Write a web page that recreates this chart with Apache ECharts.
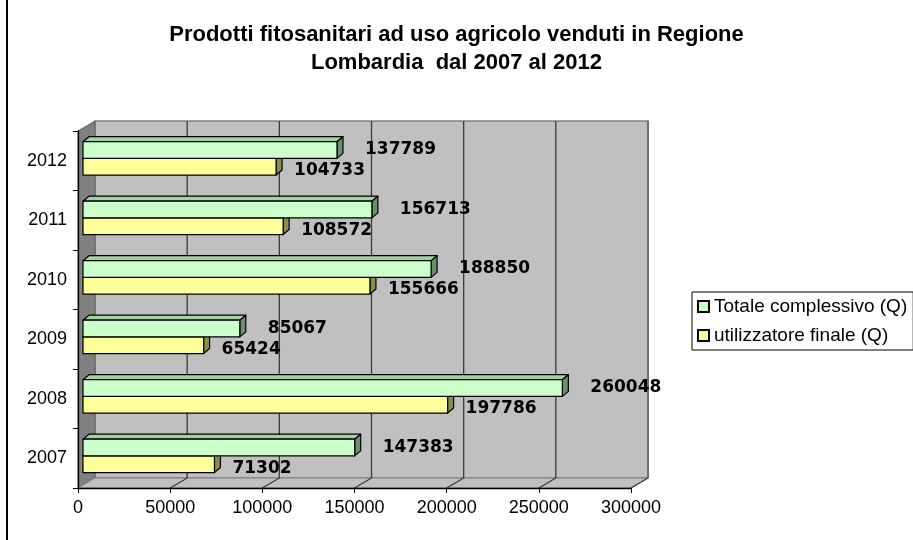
<!DOCTYPE html>
<html>
<head>
<meta charset="utf-8">
<script src="https://cdn.jsdelivr.net/npm/echarts@6/dist/echarts.min.js"></script>
<style>html,body{margin:0;padding:0;background:#fff}#c{width:913px;height:540px}</style>
</head>
<body>
<div id="c"></div>
<script>
const categories = ['2007', '2008', '2009', '2010', '2011', '2012'];
const totaleComplessivo = [147383, 260048, 85067, 188850, 156713, 137789];
const utilizzatoreFinale = [71302, 197786, 65424, 155666, 108572, 104733];
const xTickValues = [0, 50000, 100000, 150000, 200000, 250000, 300000];
const titleText = 'Prodotti fitosanitari ad uso agricolo venduti in Regione\nLombardia  dal 2007 al 2012';
const seriesNames = ['Totale complessivo (Q)', 'utilizzatore finale (Q)'];

const chart = echarts.init(document.getElementById('c'));
const WALL_DX = 17, WALL_DY = -10;   // depth of the 3D box
const BAR_DX = 6, BAR_DY = -5;       // depth of each bar
const BAR_SHIFT = 5;                 // bars sit a little behind the front plane
const LABEL_FONT = 'bold 17px "DejaVu Sans", Verdana, sans-serif';

function wallsRender(params, api) {
  const cs = params.coordSys;
  const l = cs.x, t = cs.y, r = cs.x + cs.width, b = cs.y + cs.height;
  const children = [];
  children.push({type: 'rect', shape: {x: l + WALL_DX, y: t + WALL_DY, width: cs.width, height: cs.height},
    style: {fill: '#C0C0C0', stroke: '#808080', lineWidth: 1.5}});
  children.push({type: 'polygon', shape: {points: [[l, t], [l + WALL_DX, t + WALL_DY], [l + WALL_DX, b + WALL_DY], [l, b]]},
    style: {fill: '#808080', stroke: '#606060', lineWidth: 1}});
  children.push({type: 'polygon', shape: {points: [[l, b], [l + WALL_DX, b + WALL_DY], [r + WALL_DX, b + WALL_DY], [r, b]]},
    style: {fill: '#C0C0C0', stroke: '#808080', lineWidth: 1}});
  xTickValues.forEach(function (v) {
    if (v === 0) return;
    const x = api.coord([v, 0])[0];
    const last = v === xTickValues[xTickValues.length - 1];
    children.push({type: 'line', shape: {x1: x + WALL_DX, y1: t + WALL_DY, x2: x + WALL_DX, y2: b + WALL_DY},
      style: last ? {stroke: '#707070', lineWidth: 2} : {stroke: '#3a3a3a', lineWidth: 1.3}});
    children.push({type: 'line', shape: {x1: x + WALL_DX, y1: b + WALL_DY, x2: x, y2: b},
      style: {stroke: '#3a3a3a', lineWidth: 1.2}});
  });
  return {type: 'group', children: children};
}

function makeBarRender(front, topC, sideC, slot, labelDx, labelDy) {
  return function (params, api) {
    const v = api.value(0), i = api.value(1);
    const s = api.coord([0, i]);
    const e = api.coord([v, i]);
    const band = api.size([0, 1])[1];
    const h = band * 0.28;
    const y0 = s[1] - band * 0.32 + slot * h;
    const y1 = y0 + h;
    const x0 = s[0] + BAR_SHIFT;
    const x1 = e[0] + BAR_SHIFT;
    const stroke = {stroke: '#000', lineWidth: 1.2, lineJoin: 'round'};
    return {
      type: 'group',
      children: [
        {type: 'polygon', shape: {points: [[x0, y0], [x0 + BAR_DX, y0 + BAR_DY], [x1 + BAR_DX, y0 + BAR_DY], [x1, y0]]},
          style: Object.assign({fill: topC}, stroke)},
        {type: 'polygon', shape: {points: [[x1, y0], [x1 + BAR_DX, y0 + BAR_DY], [x1 + BAR_DX, y1 + BAR_DY], [x1, y1]]},
          style: Object.assign({fill: sideC}, stroke)},
        {type: 'rect', shape: {x: x0, y: y0, width: x1 - x0, height: h},
          style: Object.assign({fill: front}, stroke)},
        {type: 'text', z2: 50, style: {text: String(v), x: x1 + BAR_DX + labelDx, y: (y0 + y1) / 2 + labelDy,
          font: LABEL_FONT, fill: '#000', align: 'left', verticalAlign: 'middle'}}
      ]
    };
  };
}

const option = {
  animation: false,
  backgroundColor: '#fff',
  title: {
    text: titleText,
    left: 'center',
    top: 16,
    textStyle: {fontFamily: '"Liberation Sans", Arial, sans-serif', fontWeight: 'bold', fontSize: 22, lineHeight: 28, color: '#000'}
  },
  legend: {
    orient: 'vertical',
    left: 692,
    top: 292,
    data: seriesNames,
    itemWidth: 11,
    itemHeight: 11,
    itemGap: 10,
    padding: [5, 6, 5, 5],
    borderColor: '#000',
    borderWidth: 1,
    icon: 'rect',
    textStyle: {fontFamily: '"Liberation Sans", Arial, sans-serif', fontSize: 19, color: '#000'}
  },
  grid: {left: 78, right: 282, top: 131, bottom: 52},
  xAxis: {
    type: 'value',
    min: 0, max: 300000, interval: 50000,
    z: 10,
    axisLine: {show: true, lineStyle: {color: '#000', width: 1.3}},
    axisTick: {show: true, length: 5, lineStyle: {color: '#000'}},
    axisLabel: {margin: 11, fontFamily: '"Liberation Sans", Arial, sans-serif', fontSize: 18, color: '#000',
      formatter: function (v) { return String(v); }},
    splitLine: {show: false}
  },
  yAxis: {
    type: 'category',
    data: categories,
    z: 10,
    axisLine: {show: true, lineStyle: {color: '#000', width: 1.3}},
    axisTick: {show: true, length: 5, alignWithLabel: false, lineStyle: {color: '#000'}},
    axisLabel: {margin: 11, fontFamily: '"Liberation Sans", Arial, sans-serif', fontSize: 18, color: '#000'},
    splitLine: {show: false}
  },
  graphic: [
    {type: 'line', shape: {x1: 7, y1: 0, x2: 7, y2: 540}, style: {stroke: '#000', lineWidth: 2}}
  ],
  series: [
    {
      type: 'custom', name: 'walls', z: 1, silent: true,
      renderItem: wallsRender,
      data: [[0, 0]],
      encode: {x: 0, y: 1}
    },
    {
      type: 'custom', name: seriesNames[1], z: 2,
      itemStyle: {color: '#FFFF99', borderColor: '#000', borderWidth: 1},
      renderItem: makeBarRender('#FFFF99', '#D8D880', '#8C8C4C', 1, 12, 4),
      data: utilizzatoreFinale.map(function (v, i) { return [v, i]; }),
      encode: {x: 0, y: 1}
    },
    {
      type: 'custom', name: seriesNames[0], z: 3,
      itemStyle: {color: '#CCFFCC', borderColor: '#000', borderWidth: 1},
      renderItem: makeBarRender('#CCFFCC', '#A3D1A3', '#6B8E6B', 0, 22, 0),
      data: totaleComplessivo.map(function (v, i) { return [v, i]; }),
      encode: {x: 0, y: 1}
    }
  ]
};
chart.setOption(option);
</script>
</body>
</html>
